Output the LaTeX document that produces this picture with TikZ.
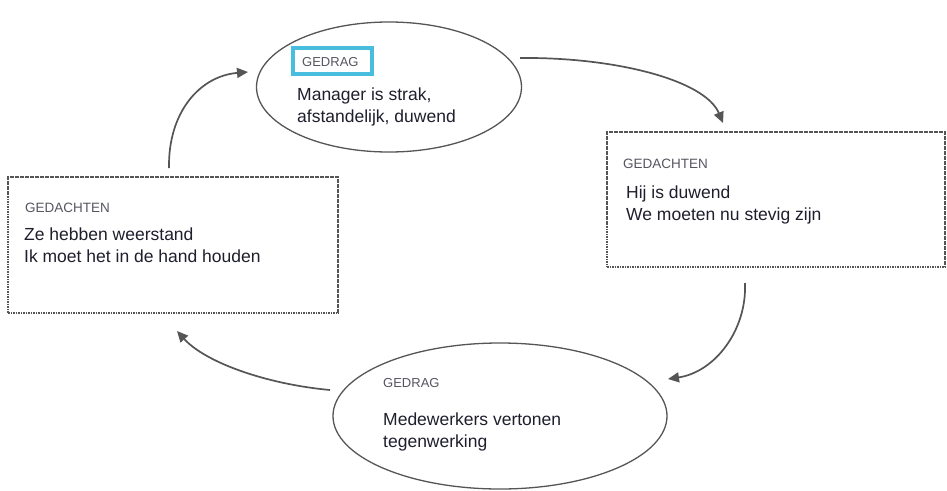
\documentclass[tikz,border=0pt]{standalone}
\usepackage{fontspec}
\setmainfont{Liberation Sans}
\usetikzlibrary{shapes.geometric,arrows.meta}
\definecolor{linegray}{RGB}{85,85,85}
\definecolor{labgray}{RGB}{85,85,95}
\definecolor{txt}{RGB}{30,30,45}
\definecolor{cyanbox}{RGB}{72,190,222}
\tikzset{
  oval/.style={draw=linegray, line width=1.3pt, ellipse, inner sep=0pt},
  dbox/.style={draw=linegray, line width=1.5pt, dash pattern=on 1.6pt off 0.9pt, rectangle, inner sep=0pt},
  lab/.style={anchor=base west, inner sep=0pt, text=labgray, font=\fontsize{13}{15}\selectfont},
  body/.style={anchor=base west, inner sep=0pt, text=txt, align=left, font=\fontsize{17.5}{22}\selectfont},
  cyc/.style={draw=linegray, line width=1.7pt, -{Triangle[length=11pt,width=10pt]}},
}
\begin{document}
\begin{tikzpicture}[x=1pt,y=-1pt]
\useasboundingbox (0,0) rectangle (947,490);
% shapes
\node[oval, minimum width=265pt, minimum height=130pt] (top) at (389,87) {};
\node[oval, minimum width=334pt, minimum height=146pt] (bot) at (500,416) {};
\node[dbox, minimum width=338pt, minimum height=135pt] (rbox) at (776,199.5) {};
\node[dbox, minimum width=330pt, minimum height=136pt] (lbox) at (173,245) {};
% top ellipse texts
\node[draw=cyanbox, line width=3.2pt, minimum width=79pt, minimum height=26pt, inner sep=0pt] (cyb) at (332.5,61) {};
\node[lab] (tlab) at (302,66) {GEDRAG};
\node[body] (ttxt) at (297,122) {Manager is strak,\\afstandelijk, duwend};
% right box texts
\node[lab, font=\fontsize{13.5}{15}\selectfont] (rlab) at (623,168) {GEDACHTEN};
\node[body] (rtxt) at (626,220) {Hij is duwend\\We moeten nu stevig zijn};
% left box texts
\node[lab, font=\fontsize{13.5}{15}\selectfont] (llab) at (25,212) {GEDACHTEN};
\node[body] (ltxt) at (24,262) {Ze hebben weerstand\\Ik moet het in de hand houden};
% bottom ellipse texts
\node[lab] (blab) at (383,387) {GEDRAG};
\node[body] (btxt) at (383,447) {Medewerkers vertonen\\tegenwerking};
% connector end points
\coordinate (a1s) at (520,58);
\coordinate (a1e) at (723,123);
\coordinate (a2s) at (745,283);
\coordinate (a2e) at (668,379);
\coordinate (a3s) at (330,390);
\coordinate (a3e) at (177,331);
\coordinate (a4s) at (169,168);
\coordinate (a4e) at (248,72);
% connectors
\draw[cyc] (a1s) .. controls (615,57) and (705,80) .. (a1e);
\draw[cyc] (a2s) .. controls (747,330) and (715,372) .. (a2e);
\draw[cyc] (a3s) .. controls (265,384) and (205,362) .. (a3e);
\draw[cyc] (a4s) .. controls (168,112) and (200,76) .. (a4e);
\end{tikzpicture}
\end{document}
